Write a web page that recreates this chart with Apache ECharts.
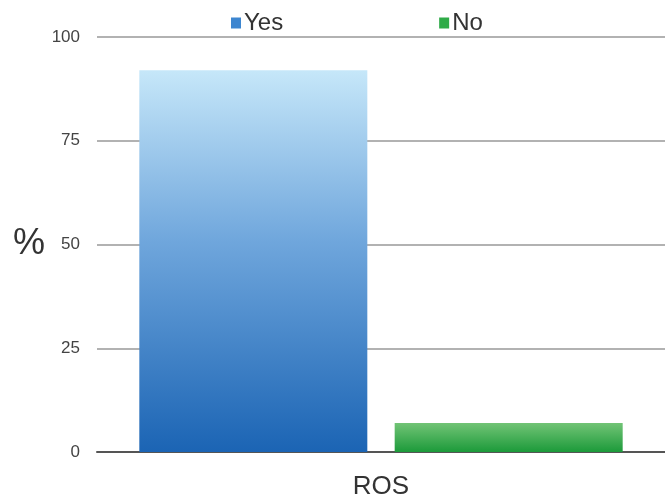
<!DOCTYPE html>
<html>
<head>
<meta charset="utf-8">
<script src="https://cdn.jsdelivr.net/npm/echarts@6/dist/echarts.min.js"></script>
<style>
  html, body { margin: 0; padding: 0; background: #fff; }
  #chart { width: 665px; height: 504px; }
</style>
</head>
<body>
<div id="chart"></div>
<script>
const categories = ["ROS"];
const yesValues = [92];
const noValues = [7];
const yTicks = [0, 25, 50, 75, 100];

const myChart = echarts.init(document.getElementById("chart"));

const option = {
  animation: false,
  textStyle: { fontFamily: "Liberation Sans, Arial, sans-serif" },
  legend: {
    top: 6,
    left: 226,
    itemGap: 156,
    itemWidth: 10,
    itemHeight: 11,
    icon: "rect",
    textStyle: { fontSize: 24, color: "#333", padding: [0, 0, 0, -2] },
    data: [
      { name: "Yes", itemStyle: { color: "#3d86d0" } },
      { name: "No", itemStyle: { color: "#2fab48" } }
    ]
  },
  grid: { left: 97, right: 0, top: 37, bottom: 52, outerBoundsMode: "none" },
  xAxis: {
    type: "category",
    data: categories,
    name: "ROS",
    nameLocation: "middle",
    nameGap: 22,
    nameTextStyle: { fontSize: 26, color: "#333" },
    axisLine: { lineStyle: { color: "#555", width: 2 } },
    axisTick: { show: false },
    axisLabel: { show: false }
  },
  yAxis: {
    type: "value",
    min: yTicks[0],
    max: yTicks[yTicks.length - 1],
    interval: 25,
    name: "%",
    nameLocation: "middle",
    nameRotate: 0,
    nameGap: 52,
    nameTextStyle: { fontSize: 36, color: "#333", padding: [18, 0, 0, 0] },
    axisLine: { show: false },
    axisTick: { show: false },
    axisLabel: { fontSize: 17, color: "#444", margin: 17 },
    splitLine: { lineStyle: { color: "#999", width: 1.5 } }
  },
  series: [
    {
      name: "Yes",
      type: "bar",
      data: yesValues,
      barWidth: 228,
      barGap: "12%",
      itemStyle: {
        color: new echarts.graphic.LinearGradient(0, 0, 0, 1, [
          { offset: 0, color: "#c6e7f9" },
          { offset: 0.45, color: "#6fa6dc" },
          { offset: 1, color: "#1b64b4" }
        ])
      }
    },
    {
      name: "No",
      type: "bar",
      data: noValues,
      barWidth: 228,
      itemStyle: {
        color: new echarts.graphic.LinearGradient(0, 0, 0, 1, [
          { offset: 0, color: "#72c476" },
          { offset: 1, color: "#1c9a3a" }
        ])
      }
    }
  ]
};

myChart.setOption(option);
window.onresize = function () {
  myChart.resize();
};
</script>
</body>
</html>
